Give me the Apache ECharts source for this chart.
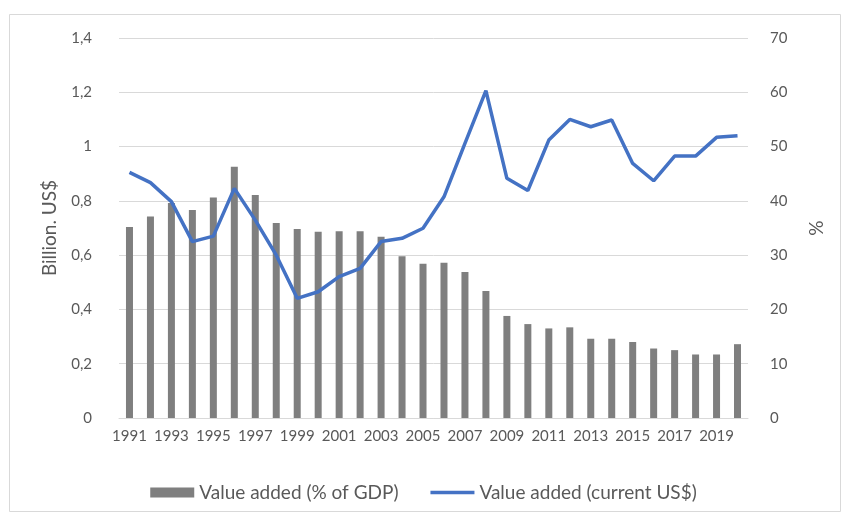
<!DOCTYPE html>
<html>
<head>
<meta charset="utf-8">
<script src="https://cdn.jsdelivr.net/npm/echarts@6/dist/echarts.min.js"></script>
<style>
html,body{margin:0;padding:0;background:#fff;}
#chart{width:847px;height:515px;}
</style>
</head>
<body>
<div id="chart"></div>
<script>
const years = ['1991','1992','1993','1994','1995','1996','1997','1998','1999','2000','2001','2002','2003','2004','2005','2006','2007','2008','2009','2010','2011','2012','2013','2014','2015','2016','2017','2018','2019','2020'];
const pctGdp = [35.2,37.1,39.6,38.3,40.6,46.3,41.1,35.9,34.8,34.3,34.4,34.4,33.4,29.8,28.4,28.6,26.9,23.4,18.8,17.3,16.5,16.7,14.6,14.6,14.0,12.8,12.5,11.7,11.7,13.6];
const usdBillion = [0.905,0.867,0.797,0.650,0.670,0.846,0.729,0.600,0.441,0.465,0.521,0.551,0.650,0.662,0.699,0.815,1.012,1.206,0.883,0.838,1.024,1.100,1.073,1.098,0.938,0.874,0.965,0.965,1.034,1.040];
const leftTicks = {min:0, max:1.4, interval:0.2};
const rightTicks = {min:0, max:70, interval:10};
const barName = 'Value added (% of GDP)';
const lineName = 'Value added (current US$)';

const FONT = 'Lato';
const chart = echarts.init(document.getElementById('chart'), null, {renderer:'canvas'});
chart.setOption({
  animation:false,
  backgroundColor:'#ffffff',
  textStyle:{fontFamily:FONT},
  graphic:[{
    type:'rect', left:7, top:12, shape:{width:831, height:497},
    style:{fill:'none', stroke:'#d9d9d9', lineWidth:1}, silent:true, z:-1
  }],
  grid:{left:119, right:99, top:38, bottom:97, containLabel:false},
  legend:{
    data:[{name:barName, icon:'rect'}, {name:lineName, icon:'path://M0,0L46,0L46,3.5L0,3.5Z'}],
    top:478, left:'center',
    itemWidth:44, itemHeight:10, itemGap:32, symbolKeepAspect:true,
    textStyle:{color:'#595959', fontSize:19, fontFamily:FONT}
  },
  xAxis:{
    type:'category', data:years,
    axisLine:{lineStyle:{color:'#d9d9d9'}},
    axisTick:{show:false},
    axisLabel:{interval:1, color:'#595959', fontSize:15, margin:11, fontFamily:FONT}
  },
  yAxis:[{
    type:'value', min:leftTicks.min, max:leftTicks.max, interval:leftTicks.interval,
    name:'Billion. US$', nameLocation:'middle', nameGap:60, nameRotate:90,
    nameTextStyle:{color:'#595959', fontSize:19, fontFamily:FONT},
    axisLine:{show:false}, axisTick:{show:false},
    axisLabel:{color:'#595959', fontSize:15, margin:27, fontFamily:FONT,
      formatter:v=>String(Number(v.toFixed(1))).replace('.',',')},
    splitLine:{lineStyle:{color:'#d9d9d9'}}
  },{
    type:'value', min:rightTicks.min, max:rightTicks.max, interval:rightTicks.interval,
    name:'%', nameLocation:'middle', nameGap:58, nameRotate:270,
    nameTextStyle:{color:'#595959', fontSize:19, fontFamily:FONT},
    axisLine:{show:false}, axisTick:{show:false},
    axisLabel:{color:'#595959', fontSize:15, margin:22, fontFamily:FONT},
    splitLine:{show:false}
  }],
  series:[{
    name:barName, type:'bar', yAxisIndex:1, data:pctGdp,
    barWidth:7, itemStyle:{color:'#7f7f7f'}
  },{
    name:lineName, type:'line', yAxisIndex:0, data:usdBillion,
    symbol:'none', lineStyle:{color:'#4472c4', width:3.5}, itemStyle:{color:'#4472c4'}
  }]
});
</script>
</body>
</html>
